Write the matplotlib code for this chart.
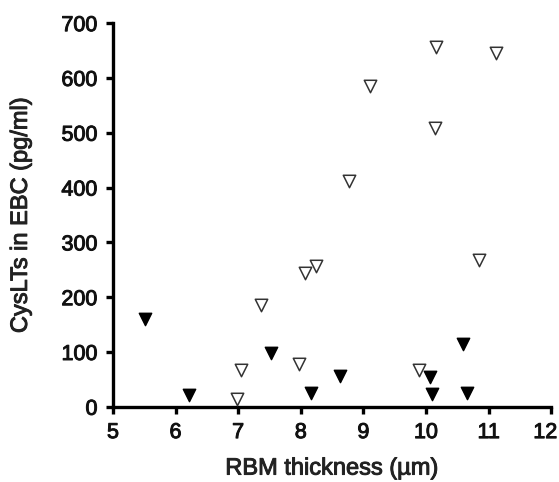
import numpy as np
import matplotlib.pyplot as plt
import matplotlib.transforms as mtransforms
import matplotlib.patheffects as pe

plt.rcParams['font.family'] = ['Liberation Sans', 'DejaVu Sans']

# open triangles
x_open = [6.98, 7.04, 7.36, 7.97, 8.07, 8.25, 8.77, 9.10, 9.89, 10.15, 10.16, 10.85, 11.12]
y_open = [14, 67, 186, 78, 244, 257, 412, 586, 67, 509, 656, 267, 646]

# filled triangles
x_fill = [5.51, 6.21, 7.52, 8.16, 8.63, 10.06, 10.09, 10.59, 10.66]
y_fill = [160, 22, 98, 25, 56, 54, 24, 114, 25]

xticks = [5, 6, 7, 8, 9, 10, 11, 12]
yticks = [0, 100, 200, 300, 400, 500, 600, 700]

fig = plt.figure(figsize=(5.59, 4.82), dpi=100)
ax = fig.add_axes([0.202, 0.156, 0.784, 0.796])

ax.scatter(x_open, y_open, marker='v', s=80, facecolors='white',
           edgecolors='#333333', linewidths=1.1, clip_on=False, zorder=3)
ax.scatter(x_fill, y_fill, marker='v', s=80, facecolors='black',
           edgecolors='black', linewidths=1.0, clip_on=False, zorder=3)

ax.set_xlim(5, 12)
ax.set_ylim(0, 700)
ax.set_xticks(xticks)
ax.set_yticks(yticks)

for side in ['top', 'right']:
    ax.spines[side].set_visible(False)
for side in ['left', 'bottom']:
    ax.spines[side].set_linewidth(2.4)

# text in the original is a bit heavier than plain Arial
heavy = [pe.withStroke(linewidth=0.7, foreground='#111111')]

ax.tick_params(direction='out', length=5, width=2.4, labelsize=15.5, pad=6,
               labelcolor='#111111')
for lab in ax.get_xticklabels() + ax.get_yticklabels():
    lab.set_path_effects(heavy)

# last x label pulled in so it stays inside the picture
last = ax.get_xticklabels()[-1]
last.set_ha('right')
last.set_transform(last.get_transform() +
                   mtransforms.ScaledTranslation(6 / 100, 0, fig.dpi_scale_trans))

ax.set_xlabel('RBM thickness (µm)', fontsize=17, color='#222222', va='center',
              path_effects=[pe.withStroke(linewidth=0.7, foreground='#222222')])
ax.set_ylabel('CysLTs in EBC (pg/ml)', fontsize=17, color='#222222', va='center',
              path_effects=[pe.withStroke(linewidth=0.7, foreground='#222222')])
ax.xaxis.set_label_coords(0.5, -0.161)
ax.yaxis.set_label_coords(-0.21, 0.5)

fig.savefig('out.png', dpi=100)
